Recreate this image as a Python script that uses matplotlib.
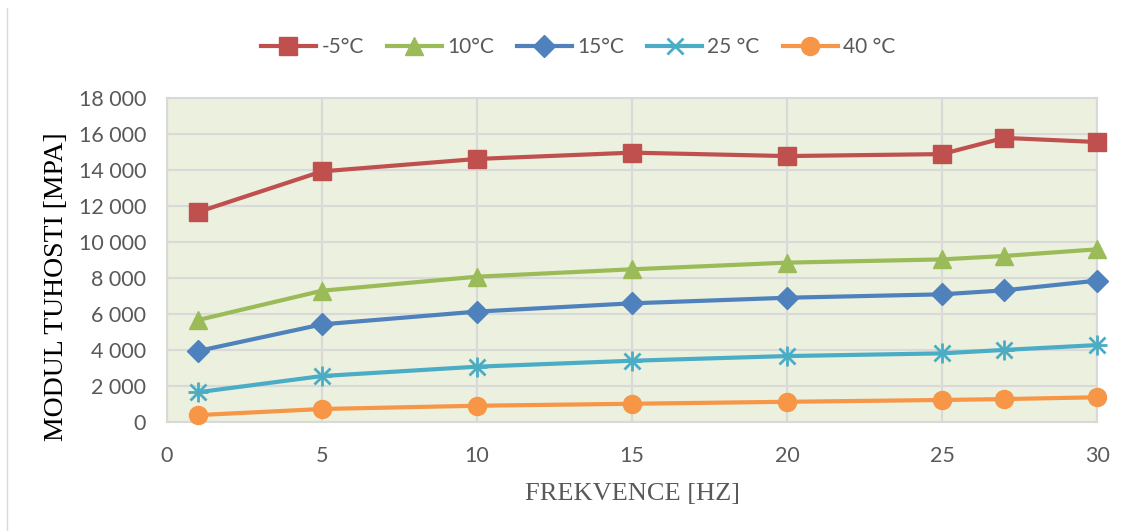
import matplotlib
matplotlib.use("Agg")
import matplotlib.pyplot as plt
from matplotlib.lines import Line2D
from matplotlib.ticker import FuncFormatter

freq = [1, 5, 10, 15, 20, 25, 27, 30]
series_labels = ["-5°C", "10°C", "15°C", "25 °C", "40 °C"]
t_m5 = [11680, 13940, 14630, 14980, 14790, 14900, 15800, 15570]
t_10 = [5680, 7310, 8090, 8500, 8870, 9050, 9240, 9610]
t_15 = [3960, 5440, 6150, 6610, 6920, 7110, 7330, 7870]
t_25 = [1670, 2570, 3090, 3420, 3680, 3830, 4020, 4290]
t_40 = [400, 740, 920, 1030, 1140, 1240, 1290, 1390]
x_ticks = [0, 5, 10, 15, 20, 25, 30]
y_ticks = [0, 2000, 4000, 6000, 8000, 10000, 12000, 14000, 16000, 18000]

colors = ["#C0504D", "#9BBB59", "#4F81BD", "#4BACC6", "#F79646"]
markers = ["s", "^", "D", "x", "o"]
msizes = [13, 13, 11, 12, 13]

fig = plt.figure(figsize=(11.29, 5.31), dpi=100)
ax = fig.add_axes([0.1479, 0.2047, 0.8238, 0.6102])
ax.set_facecolor("#EBF1DE")

handles = []
for vals, lab, c, m, ms in zip([t_m5, t_10, t_15, t_25, t_40], series_labels, colors, markers, msizes):
    kw = dict(color=c, lw=3, marker=m, markersize=ms, label=lab, clip_on=False, zorder=3)
    if m == "x":
        kw.update(markeredgewidth=2)
    ln, = ax.plot(freq, vals, **kw)
    if m == "x":
        ax.plot(freq, vals, ls="none", marker="+", markersize=ms + 2, color=c,
                markeredgewidth=2, clip_on=False, zorder=3)
    handles.append(ln)

ax.set_xlim(0, 30)
ax.set_ylim(0, 18000)
ax.set_xticks(x_ticks)
ax.set_yticks(y_ticks)
ax.yaxis.set_major_formatter(FuncFormatter(lambda v, p: f"{int(v):,}".replace(",", " ")))
ax.grid(True, color="#D9D9D9", lw=1.5)
ax.set_axisbelow(True)
for s in ax.spines.values():
    s.set_color("#D9D9D9")
    s.set_linewidth(1.5)
ax.tick_params(axis="both", length=0, labelsize=15.5, labelcolor="#595959")
ax.tick_params(axis="x", pad=17)
ax.tick_params(axis="y", pad=15)
for lbl in ax.get_xticklabels() + ax.get_yticklabels():
    lbl.set_family("Lato")

ax.set_xlabel("FREKVENCE [HZ]", family="Liberation Serif", fontsize=19, color="#595959")
ax.xaxis.set_label_coords(0.5, -0.187)
ax.set_ylabel("MODUL TUHOSTI [MPA]", family="Liberation Serif", fontsize=20, color="black")
ax.yaxis.set_label_coords(-0.105, 0.42)

leg = fig.legend(handles=handles, loc="center", bbox_to_anchor=(0.512, 1 - 47 / 531), ncol=5,
                 frameon=False, prop={"family": "Lato", "size": 15}, handlelength=2.65,
                 columnspacing=1.1, handletextpad=0.25)
for t in leg.get_texts():
    t.set_color("#595959")

fig.add_artist(Line2D([7 / 1129, 7 / 1129], [0, 1 - 8 / 531], transform=fig.transFigure,
                      color="#D9D9D9", lw=1))

fig.savefig("out.png", dpi=100)
